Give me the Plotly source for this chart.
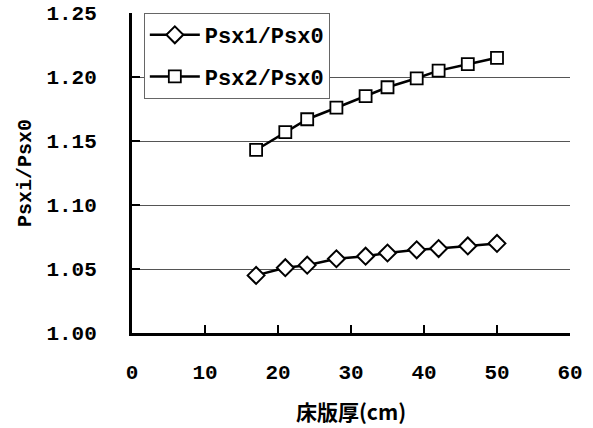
import plotly.graph_objects as go

thickness = [17, 21, 24, 28, 32, 35, 39, 42, 46, 50]
psx1 = [1.045, 1.051, 1.053, 1.058, 1.060, 1.0625, 1.065, 1.066, 1.068, 1.070]
psx2 = [1.143, 1.157, 1.167, 1.176, 1.185, 1.192, 1.199, 1.205, 1.210, 1.215]
x_ticks = [0, 10, 20, 30, 40, 50, 60]
y_ticks = [1.00, 1.05, 1.10, 1.15, 1.20, 1.25]

MONO = "Liberation Mono, Courier New, monospace"
tickf = dict(family=MONO, size=21, color="black", weight="bold")

fig = go.Figure()
fig.add_trace(go.Scatter(
    x=thickness, y=psx1, name="Psx1/Psx0", mode="lines+markers", legendgroup="a",
    line=dict(color="black", width=2.5),
    marker=dict(symbol="diamond", size=13, color="white", line=dict(color="black", width=2)),
))
fig.add_trace(go.Scatter(
    x=thickness, y=psx2, name="Psx2/Psx0", mode="lines+markers", legendgroup="b",
    line=dict(color="black", width=2.5),
    marker=dict(symbol="square", size=12, color="white", line=dict(color="black", width=1.8)),
))

fig.update_layout(
    width=593, height=428,
    margin=dict(l=132, r=23, t=13, b=95),
    paper_bgcolor="white", plot_bgcolor="white",
    font=tickf,
    showlegend=True,
    legend=dict(
        x=0.027, y=1.0, xanchor="left", yanchor="top",
        bordercolor="#666", borderwidth=1, bgcolor="white",
        font=dict(family=MONO, size=22, color="black", weight="bold"),
        tracegroupgap=10, itemwidth=50,
    ),
    xaxis=dict(
        range=[0, 60], tickvals=x_ticks, ticktext=[str(v) for v in x_ticks],
        showgrid=False, zeroline=False, automargin=False,
        showline=True, linecolor="black", linewidth=3,
        ticks="inside", ticklen=8, tickwidth=2, tickcolor="black",
        tickfont=tickf, ticklabelstandoff=18,
        title=dict(text="床版厚(cm)", standoff=22,
                   font=dict(family="Noto Sans CJK JP, Liberation Mono", size=21, color="black", weight="bold")),
    ),
    yaxis=dict(
        range=[1.00, 1.25], tickvals=y_ticks, ticktext=[f"{v:.2f}" for v in y_ticks],
        showgrid=True, gridcolor="#555", gridwidth=1, zeroline=False, automargin=False,
        showline=True, linecolor="black", linewidth=3,
        ticks="inside", ticklen=8, tickwidth=2, tickcolor="black",
        tickfont=tickf, ticklabelstandoff=28,
        title=dict(text="Psxi/Psx0", standoff=10, font=dict(family=MONO, size=20, color="black", weight="bold")),
    ),
)

fig.write_html("out.html", config={"displayModeBar": False},
               post_script="document.body.style.margin='0';")
